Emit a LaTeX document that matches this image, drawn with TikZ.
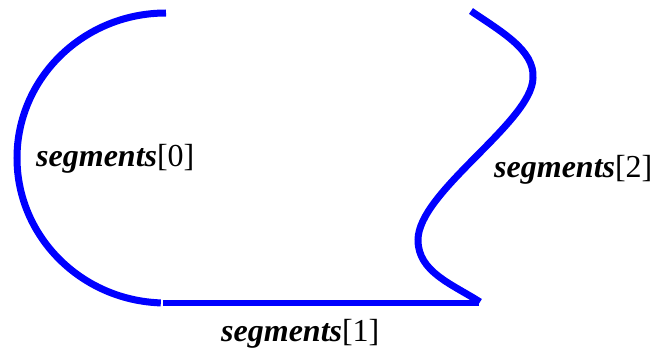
\documentclass[tikz,border=0pt]{standalone}
\usepackage{fontspec}
\setmainfont{Liberation Serif}
\begin{document}
\begin{tikzpicture}[x=1pt,y=-1pt,
  seg/.style={draw={rgb,255:red,0;green,0;blue,255},line width=7pt},
  segline/.style={draw={rgb,255:red,0;green,0;blue,255},line width=6.5pt},
  lbl/.style={font=\fontsize{32}{37}\selectfont,inner sep=0pt,anchor=base west}]
\useasboundingbox (0,0) rectangle (657,353);
\fill[white] (0,0) rectangle (657,353);
% named points
\coordinate (s0a) at (166,13);
\coordinate (s1a) at (163,303);
\coordinate (s1b) at (479,303);
\coordinate (s2a) at (471,11);
\coordinate (s2b) at (533,78);
\coordinate (s2c) at (418,240);
\coordinate (s2d) at (480,302);
% segments[0]
\draw[seg] (s0a) arc[start angle=-90, end angle=-268, x radius=149, y radius=145];
% segments[1]
\draw[segline] (s1a) -- (s1b);
% segments[2]
\draw[seg] (s2a) .. controls (500,31) and (535,50) .. (s2b)
   .. controls (532,122) and (418,192) .. (s2c)
   .. controls (418,272) and (452,284) .. (s2d);
% labels
\node[lbl] (l0) at (36,166) {\textbf{\textit{segments}}[0]};
\node[lbl] (l1) at (221,341) {\textbf{\textit{segments}}[1]};
\node[lbl] (l2) at (494,177) {\textbf{\textit{segments}}[2]};
\end{tikzpicture}
\end{document}
